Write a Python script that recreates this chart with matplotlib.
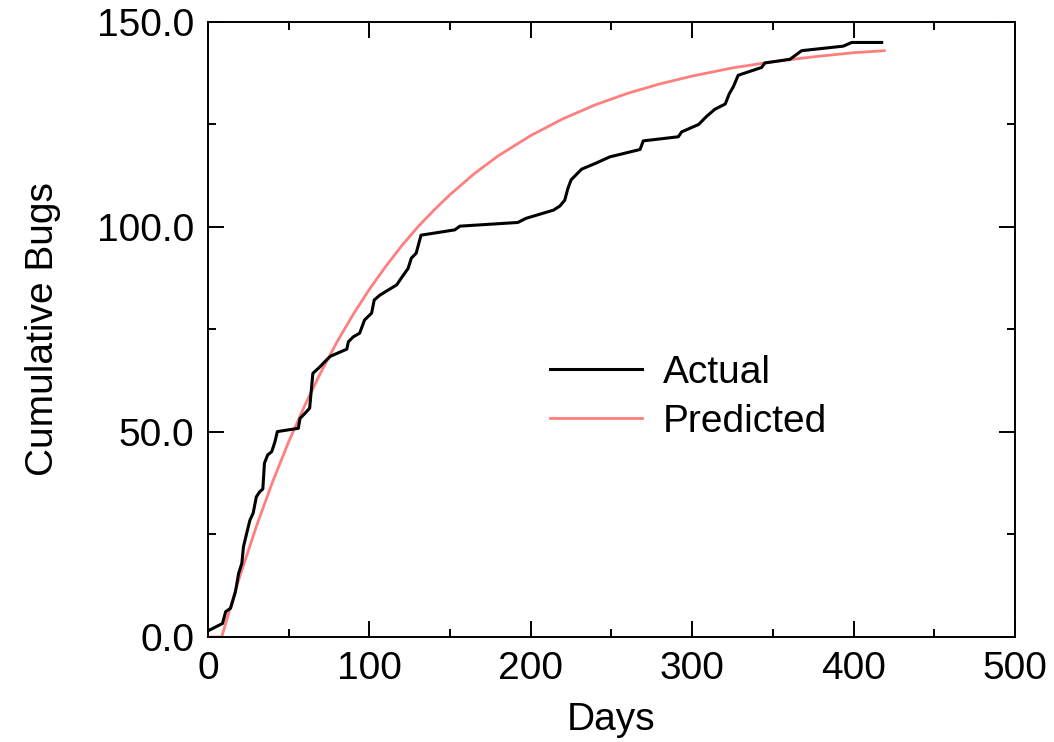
import matplotlib
matplotlib.use("Agg")
import matplotlib.pyplot as plt
from matplotlib.ticker import MultipleLocator, FormatStrFormatter

plt.rcParams['font.family'] = ['Liberation Sans', 'DejaVu Sans']

# Observed cumulative bug count
actual_days = [0, 9, 11, 14, 17, 19, 21, 22, 24, 26, 28, 30, 32, 34, 35, 37, 39.5, 41.5,
               43, 56, 57, 60, 63, 65, 69.4, 73.5, 76, 86, 87, 90, 94, 97, 101.4, 103,
               106.6, 117, 119, 124, 126, 129, 132, 153, 156, 192, 197, 214, 218, 221,
               223, 225, 231.5, 240, 249, 267.7, 269.7, 291.4, 293.5, 304, 309, 314,
               320.5, 323, 325.5, 328.5, 343, 345, 360.6, 367.8, 393.6, 398.8, 417.4]
actual_bugs = [1.5, 3.3, 6.2, 7, 11, 15.5, 18, 22, 25.3, 28.5, 30.2, 34.2, 35.4, 36.1,
               42.4, 44.4, 45.2, 47.6, 50.1, 50.9, 53.3, 54.5, 55.8, 64.3, 65.9, 67.6,
               68.5, 70.2, 72, 73.2, 74.1, 77.3, 79, 82.2, 83.4, 85.9, 87.1, 89.9, 92.4,
               93.6, 98, 99.3, 100.2, 101.1, 102.1, 104.1, 105.1, 106.5, 109.4, 111.5,
               114.1, 115.5, 117.1, 118.9, 121, 122, 123.2, 125, 127, 128.7, 130, 132.5,
               134.2, 137, 138.9, 140, 140.9, 143, 144.1, 145, 145]

# Model prediction
pred_days = [0, 8.5, 15, 20, 30, 40, 50, 60, 70, 80, 90, 100, 110, 120, 130, 140, 150,
             165, 180, 200, 220, 240, 260, 280, 300, 325, 350, 375, 400, 419]
pred_bugs = [0, 0, 8.7, 15.1, 27.0, 37.8, 47.6, 56.5, 64.6, 72.0, 78.7, 84.8, 90.3, 95.4,
             100.0, 104.1, 107.9, 113.0, 117.4, 122.3, 126.4, 129.8, 132.6, 134.9, 136.8,
             138.8, 140.3, 141.5, 142.5, 143.0]

FS = 28

fig = plt.figure(figsize=(10.54, 7.42), dpi=100)
ax = fig.add_axes([0.1973, 0.1415, 0.7657, 0.8289])

ax.plot(actual_days, actual_bugs, color='black', lw=2.2, label='Actual', zorder=3)
ax.plot(pred_days, pred_bugs, color='#ff7f7f', lw=2.0, label='Predicted', zorder=2)

ax.set_xlim(0, 500)
ax.set_ylim(0, 150)
ax.xaxis.set_major_locator(MultipleLocator(100))
ax.xaxis.set_minor_locator(MultipleLocator(50))
ax.yaxis.set_major_locator(MultipleLocator(50))
ax.yaxis.set_minor_locator(MultipleLocator(25))
ax.yaxis.set_major_formatter(FormatStrFormatter('%.1f'))

ax.tick_params(which='both', direction='in', top=True, right=True, width=1.4,
               labelsize=FS, pad=10)
ax.tick_params(which='major', length=11.5)
ax.tick_params(which='minor', length=5.8)
for s in ax.spines.values():
    s.set_linewidth(1.4)

ax.set_xlabel('Days', fontsize=FS, labelpad=11)
ax.set_ylabel('Cumulative Bugs', fontsize=FS, labelpad=26)

ax.legend(loc='center left', bbox_to_anchor=(0.424, 0.39), frameon=False,
          fontsize=FS, handlelength=2.35, handletextpad=0.55, labelspacing=0.33,
          borderpad=0, borderaxespad=0)

fig.savefig('out.png', dpi=100)
